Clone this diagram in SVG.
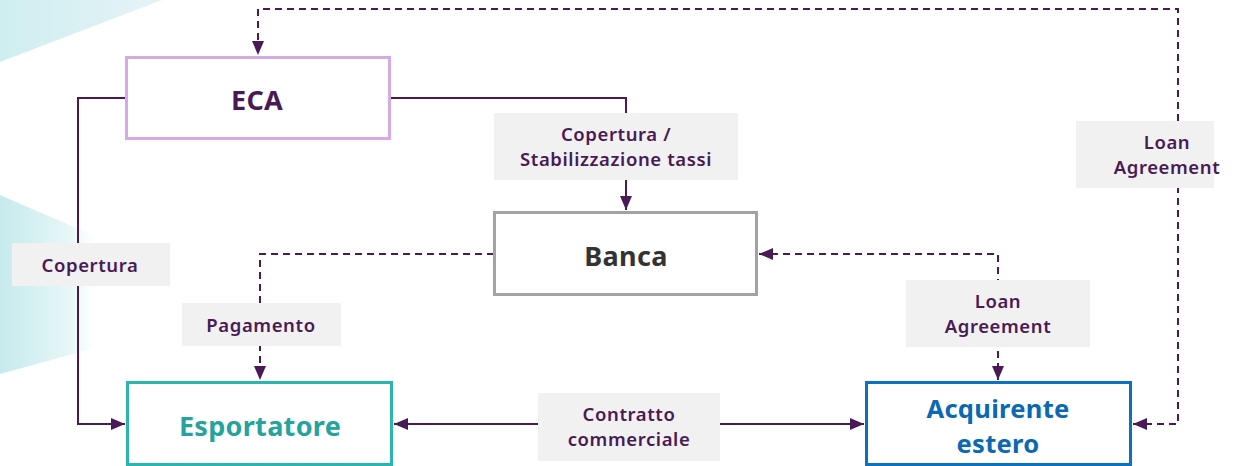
<svg xmlns="http://www.w3.org/2000/svg" width="1241" height="466" viewBox="0 0 1241 466">
<defs>
<linearGradient id="g1" x1="0" y1="0" x2="1" y2="0">
<stop offset="0" stop-color="#cfeef0"/>
<stop offset="1" stop-color="#e6f3f7"/>
</linearGradient>
<linearGradient id="g2" x1="0" y1="0" x2="1" y2="0">
<stop offset="0" stop-color="#c6eaec"/>
<stop offset="0.7" stop-color="#e6f6f7"/>
<stop offset="1" stop-color="#ffffff"/>
</linearGradient>
<marker id="ah" viewBox="0 0 14 12" refX="14" refY="6" markerWidth="14" markerHeight="12" markerUnits="userSpaceOnUse" orient="auto-start-reverse">
<path d="M0,0 L14,6 L0,12 Z" fill="#4a1a55"/>
</marker>
<style>
.box{fill:#fff;stroke-width:3}
.node{font-family:"Noto Sans","DejaVu Sans",sans-serif;font-weight:700;font-size:27px;text-anchor:middle;letter-spacing:0.3px}
.n2{font-size:25.5px}
.lbl{fill:#f1f1f1}
.lt{font-family:"Noto Sans","DejaVu Sans",sans-serif;font-weight:600;font-size:18.5px;fill:#4a1a55;text-anchor:middle;letter-spacing:0.6px}
.c{fill:none;stroke:#4a1a55;stroke-width:2}
.d{stroke-dasharray:7 5}
</style>
</defs>
<path d="M0,0 L162,0 L0,62 Z" fill="url(#g1)"/>
<path d="M0,195 L95,236 L95,348 L0,374 Z" fill="url(#g2)"/>

<g id="connectors">
<path class="c" d="M125,98 H78 V424 H125" marker-end="url(#ah)"/>
<path class="c" d="M390,98 H626 V210" marker-end="url(#ah)"/>
<path class="c d" d="M494,254 H260 V380" marker-end="url(#ah)"/>
<path class="c d" d="M759,254 H998 V380" marker-start="url(#ah)" marker-end="url(#ah)"/>
<path class="c d" d="M1133,424 H1178 V9 H258 V55" marker-start="url(#ah)" marker-end="url(#ah)"/>
<path class="c" d="M394,424 H864" marker-start="url(#ah)" marker-end="url(#ah)"/>
</g>

<g id="label-copertura">
<rect class="lbl" x="12" y="243" width="158" height="43"/>
<text class="lt" x="90" y="272">Copertura</text>
</g>
<g id="label-stabilizzazione">
<rect class="lbl" x="494" y="113" width="244" height="67"/>
<text class="lt" x="616" y="141">Copertura /</text>
<text class="lt" x="616" y="166">Stabilizzazione tassi</text>
</g>
<g id="label-pagamento">
<rect class="lbl" x="182" y="303" width="159" height="43"/>
<text class="lt" x="261" y="332">Pagamento</text>
</g>
<g id="label-loan1">
<rect class="lbl" x="906" y="280" width="184" height="67"/>
<text class="lt" x="998" y="308">Loan</text>
<text class="lt" x="998" y="333">Agreement</text>
</g>
<g id="label-loan2">
<rect class="lbl" x="1076" y="121" width="138" height="67"/>
<text class="lt" x="1167" y="149">Loan</text>
<text class="lt" x="1167" y="174">Agreement</text>
</g>
<g id="label-contratto">
<rect class="lbl" x="538" y="393" width="182" height="68"/>
<text class="lt" x="629" y="421">Contratto</text>
<text class="lt" x="629" y="446">commerciale</text>
</g>

<g id="node-eca">
<rect class="box" x="126.5" y="57.5" width="263" height="81" stroke="#d7aae6"/>
<text class="node" x="257" y="110" fill="#4a1a55">ECA</text>
</g>
<g id="node-banca">
<rect class="box" x="494.5" y="212.5" width="262" height="82" stroke="#a3a3a3"/>
<text class="node" x="626" y="266" fill="#333333">Banca</text>
</g>
<g id="node-esportatore">
<rect class="box" x="127.5" y="382.5" width="264" height="82" stroke="#2ab5ae"/>
<text class="node" x="260" y="436" fill="#25a39c">Esportatore</text>
</g>
<g id="node-acquirente">
<rect class="box" x="866.5" y="382.5" width="264" height="82" stroke="#0b72c0"/>
<text class="node n2" x="998" y="418" fill="#0b68b3">Acquirente</text>
<text class="node n2" x="998" y="453" fill="#0b68b3">estero</text>
</g>
</svg>
